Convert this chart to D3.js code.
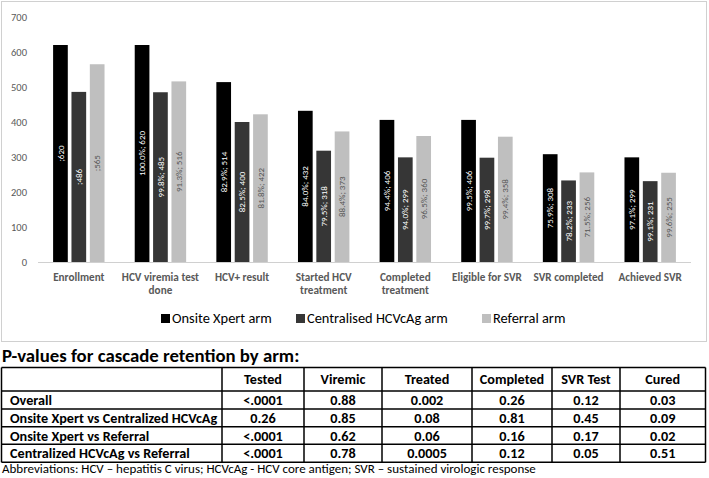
<!DOCTYPE html>
<html>
<head>
<meta charset="utf-8">
<script src="https://cdn.jsdelivr.net/npm/d3@7"></script>
<style>
  body { margin: 0; background: #fff; }
  svg { display: block; font-family: Carlito, Lato, "Open Sans", sans-serif; }
</style>
</head>
<body>
<svg id="chart"></svg>
<script>
// cascade steps
var categories = ["Enrollment", "HCV viremia test\ndone", "HCV+ result", "Started HCV\ntreatment",
                  "Completed\ntreatment", "Eligible for SVR", "SVR completed", "Achieved SVR"];
var seriesNames = ["Onsite Xpert arm", "Centralised HCVcAg arm", "Referral arm"];

var xpertValues = [620, 620, 514, 432, 406, 406, 308, 299];
var centralValues = [486, 485, 400, 318, 299, 298, 233, 231];
var referralValues = [565, 516, 422, 373, 360, 358, 256, 255];

var xpertPct = ["", "100.0%", "82.9%", "84.0%", "94.4%", "99.5%", "75.9%", "97.1%"];
var centralPct = ["", "99.8%", "82.5%", "79.5%", "94.0%", "99.7%", "78.2%", "99.1%"];
var referralPct = ["", "91.3%", "81.8%", "88.4%", "96.5%", "99.4%", "71.5%", "99.6%"];

var yTicks = [0, 100, 200, 300, 400, 500, 600, 700];

// p-value table
var tableTitle = "P-values for cascade retention by arm:";
var tableCols = ["Tested", "Viremic", "Treated", "Completed", "SVR Test", "Cured"];
var tableRows = ["Overall", "Onsite Xpert vs Centralized HCVcAg", "Onsite Xpert vs Referral", "Centralized HCVcAg vs Referral"];
var pOverall = ["<.0001", "0.88", "0.002", "0.26", "0.12", "0.03"];
var pXpertCentral = ["0.26", "0.85", "0.08", "0.81", "0.45", "0.09"];
var pXpertReferral = ["<.0001", "0.62", "0.06", "0.16", "0.17", "0.02"];
var pCentralReferral = ["<.0001", "0.78", "0.0005", "0.12", "0.05", "0.51"];
var abbreviations = "Abbreviations: HCV \u2013 hepatitis C virus; HCVcAg  - HCV core antigen; SVR \u2013 sustained virologic response";

var colors = ["#000000", "#363636", "#bfbfbf"];
var labelColors = ["#ffffff", "#ffffff", "#555555"];

var width = 709, height = 478;
var svg = d3.select("#chart").attr("width", width).attr("height", height);

// chart frame
svg.append("rect")
    .attr("x", 1.5).attr("y", 1.5)
    .attr("width", 705).attr("height", 340)
    .attr("fill", "#fff").attr("stroke", "#d0d0d0").attr("stroke-width", 1);

var plot = {left: 38, right: 691, top: 17, bottom: 262};

var x0 = d3.scaleBand()
    .domain(categories)
    .range([plot.left, plot.right])
    .paddingInner(0.37)
    .paddingOuter(0.185);

var x1 = d3.scaleBand()
    .domain([0, 1, 2])
    .range([0, x0.bandwidth()])
    .paddingInner(0.2);

var y = d3.scaleLinear().domain([0, 700]).range([plot.bottom, plot.top]);

// y axis: labels only
var yAxis = d3.axisLeft(y).tickValues(yTicks).tickSize(0).tickPadding(11);
var yg = svg.append("g")
    .attr("transform", "translate(" + plot.left + ",0)")
    .call(yAxis);
yg.select(".domain").remove();
yg.selectAll("text").attr("fill", "#595959").style("font-size", "10.5px")
    .style("font-family", "Carlito, Lato, 'Open Sans', sans-serif");

// bars
var table = categories.map(function(c, i) {
    return [
        {s: 0, v: xpertValues[i], p: xpertPct[i]},
        {s: 1, v: centralValues[i], p: centralPct[i]},
        {s: 2, v: referralValues[i], p: referralPct[i]}
    ];
});

var groups = svg.append("g").selectAll("g")
    .data(table)
    .enter()
    .append("g")
    .attr("transform", function(d, i) { return "translate(" + x0(categories[i]) + ",0)"; });

groups.selectAll("rect")
    .data(function(d) { return d; })
    .enter()
    .append("rect")
    .attr("x", function(d) { return x1(d.s); })
    .attr("width", x1.bandwidth())
    .attr("y", function(d) { return y(d.v); })
    .attr("height", function(d) { return y(0) - y(d.v); })
    .attr("fill", function(d) { return colors[d.s]; });

groups.selectAll("text")
    .data(function(d) { return d; })
    .enter()
    .append("text")
    .attr("transform", function(d) {
        var cx = x1(d.s) + x1.bandwidth() / 2;
        var cy = (y(d.v) + y(0)) / 2;
        return "translate(" + cx + "," + cy + ") rotate(-90)";
    })
    .attr("text-anchor", "middle")
    .attr("dy", "0.35em")
    .attr("fill", function(d) { return labelColors[d.s]; })
    .style("font-size", "9px")
    .text(function(d) { return (d.p ? d.p + "; " : ";") + d.v; });

// x baseline
svg.append("line")
    .attr("x1", plot.left).attr("x2", plot.right)
    .attr("y1", y(0) + 0.5).attr("y2", y(0) + 0.5)
    .attr("stroke", "#d0d0d0");

// category labels
var catLabels = svg.append("g").selectAll("text")
    .data(categories)
    .enter()
    .append("text")
    .attr("x", function(d) { return x0(d) + x0.bandwidth() / 2; })
    .attr("y", 281)
    .attr("text-anchor", "middle")
    .attr("fill", "#595959")
    .style("font-size", "11.2px")
    .style("font-weight", "bold");
catLabels.each(function(d) {
    var t = d3.select(this);
    d.split("\n").forEach(function(line, k) {
        t.append("tspan")
            .attr("x", t.attr("x"))
            .attr("dy", k === 0 ? 0 : 13)
            .text(line);
    });
});

// legend
var legendX = [161, 296, 482];
var legend = svg.append("g").selectAll("g")
    .data(seriesNames)
    .enter()
    .append("g")
    .attr("transform", function(d, i) { return "translate(" + legendX[i] + ",318)"; });
legend.append("rect")
    .attr("x", 0).attr("y", -4)
    .attr("width", 9).attr("height", 9)
    .attr("fill", function(d, i) { return colors[i]; });
legend.append("text")
    .attr("x", 11).attr("dy", "0.36em")
    .attr("fill", "#000")
    .style("font-size", "14.4px")
    .text(function(d) { return d; });

// table
svg.append("text")
    .attr("x", 2).attr("y", 362)
    .style("font-size", "18.8px")
    .style("font-weight", "bold")
    .text(tableTitle);

var colEdges = [1.5, 222, 304, 382, 472, 552, 620, 705.5];
var rowEdges = [367.5, 391, 409, 426.7, 444.3, 462.3];
var pRows = [pOverall, pXpertCentral, pXpertReferral, pCentralReferral];

var tg = svg.append("g").style("font-weight", "bold").style("font-size", "14.2px");

tg.selectAll(".head")
    .data(tableCols)
    .enter()
    .append("text")
    .attr("x", function(d, i) { return (colEdges[i + 1] + colEdges[i + 2]) / 2; })
    .attr("y", (rowEdges[0] + rowEdges[1]) / 2)
    .attr("dy", "0.36em")
    .attr("text-anchor", "middle")
    .text(function(d) { return d; });

var rowG = tg.selectAll(".row")
    .data(tableRows)
    .enter()
    .append("g")
    .attr("transform", function(d, i) { return "translate(0," + ((rowEdges[i + 1] + rowEdges[i + 2]) / 2) + ")"; });

rowG.append("text")
    .attr("x", 10).attr("dy", "0.36em")
    .text(function(d) { return d; });

rowG.selectAll(".val")
    .data(function(d, i) { return pRows[i]; })
    .enter()
    .append("text")
    .attr("x", function(d, j) { return (colEdges[j + 1] + colEdges[j + 2]) / 2; })
    .attr("dy", "0.36em")
    .attr("text-anchor", "middle")
    .text(function(d) { return d; });

// the picture is cut just below the last row
svg.append("rect")
    .attr("x", 0).attr("y", rowEdges[5])
    .attr("width", width).attr("height", height - rowEdges[5])
    .attr("fill", "#fff");

var lines = svg.append("g").attr("stroke", "#000").attr("stroke-width", 1.5);
rowEdges.forEach(function(ry) {
    lines.append("line").attr("x1", colEdges[0]).attr("x2", colEdges[7])
        .attr("y1", ry).attr("y2", ry);
});
colEdges.forEach(function(cx) {
    lines.append("line").attr("x1", cx).attr("x2", cx)
        .attr("y1", rowEdges[0]).attr("y2", rowEdges[5]);
});

svg.append("text")
    .attr("x", 2).attr("y", 473)
    .style("font-size", "13px")
    .text(abbreviations);
</script>
</body>
</html>
